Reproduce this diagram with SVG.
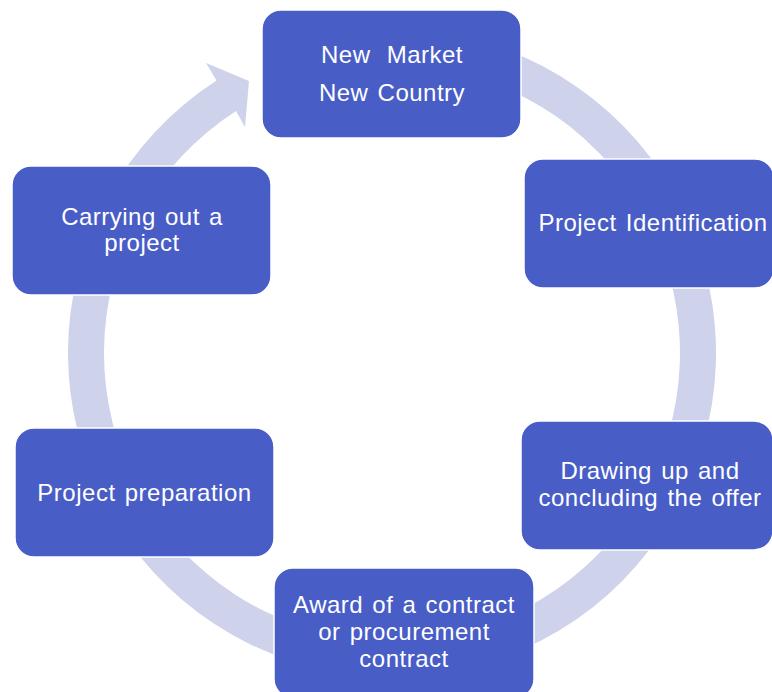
<svg xmlns="http://www.w3.org/2000/svg" width="772" height="692" viewBox="0 0 772 692">
  <style>
    .box { fill: #485DC6; stroke: #FFFFFF; stroke-width: 1.5; }
    .lbl { fill: #FFFFFF; font-family: "Liberation Sans", Arial, sans-serif; font-size: 24px; letter-spacing: 0.5px; word-spacing: 2px; text-anchor: middle; }
    .ring { fill: #CED2EB; }
  </style>
  <rect width="772" height="692" fill="#FFFFFF"/>
  <g id="connectors">
    <path class="ring" d="M308.1,40.0 A324,324 0 1 1 216.5,80.6 L206,63 L249,81 L245,127 L236.0,110.9 A288,288 0 1 0 317.5,74.8 Z"/>
  </g>
  <g id="node-new-market">
    <rect class="box" x="262" y="10" width="259" height="128" rx="19"/>
    <text class="lbl" x="392" y="63" style="word-spacing:9px">New Market</text>
    <text class="lbl" x="392" y="101">New Country</text>
  </g>
  <g id="node-project-identification">
    <rect class="box" x="524" y="159" width="250" height="129" rx="19"/>
    <text class="lbl" x="653" y="231">Project Identification</text>
  </g>
  <g id="node-drawing-up">
    <rect class="box" x="521" y="421" width="252" height="129" rx="19"/>
    <text class="lbl" x="650" y="479">Drawing up and</text>
    <text class="lbl" x="650" y="506">concluding the offer</text>
  </g>
  <g id="node-award">
    <rect class="box" x="274" y="568" width="260" height="130" rx="19"/>
    <text class="lbl" x="404" y="613">Award of a contract</text>
    <text class="lbl" x="404" y="640">or procurement</text>
    <text class="lbl" x="404" y="667">contract</text>
  </g>
  <g id="node-project-preparation">
    <rect class="box" x="15" y="428" width="259" height="129" rx="19"/>
    <text class="lbl" x="144.5" y="501">Project preparation</text>
  </g>
  <g id="node-carrying-out">
    <rect class="box" x="12" y="166" width="259" height="129" rx="19"/>
    <text class="lbl" x="142" y="225">Carrying out a</text>
    <text class="lbl" x="142" y="251">project</text>
  </g>
</svg>
